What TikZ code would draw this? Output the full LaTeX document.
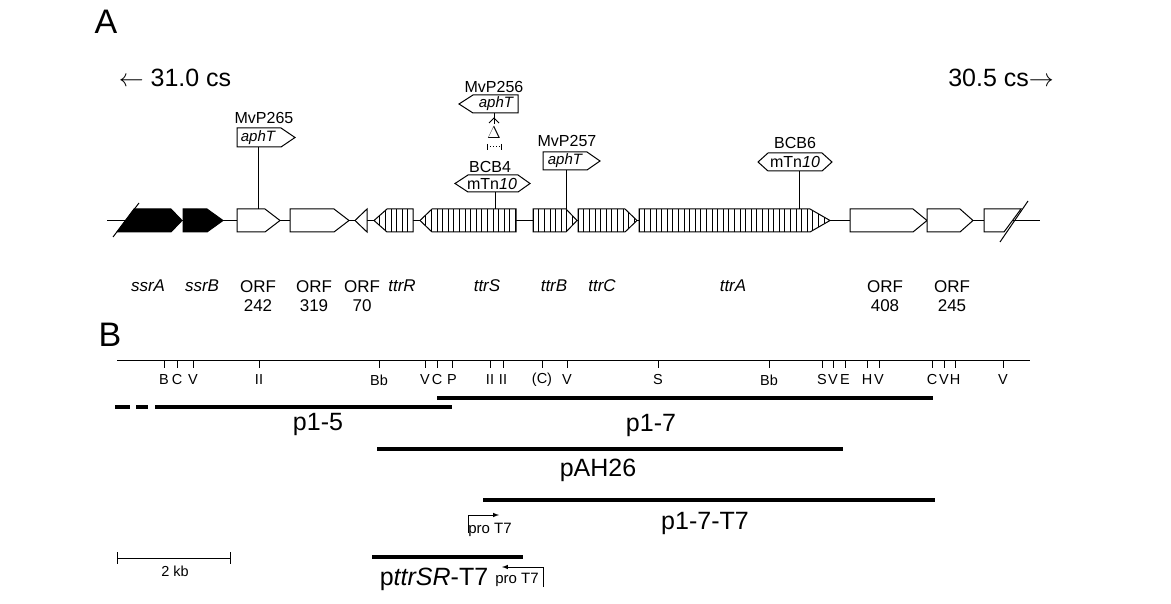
\documentclass[tikz,border=0pt]{standalone}
\usepackage{fontspec}
\setmainfont{Liberation Sans}
\begin{document}
\begin{tikzpicture}[x=1pt,y=-1pt,line width=1pt,
 gene/.style={draw,fill=white},
 black gene/.style={draw,fill=black},
 hatch/.style={draw,fill=white,path picture={\foreach \i in {0,5.6,...,400}{\draw[line width=0.6pt] ([xshift=\i pt]path picture bounding box.south west) -- ([xshift=\i pt]path picture bounding box.north west);}}},
 lab/.style={font=\fontsize{17}{19}\selectfont,align=center,inner sep=0pt},
 ins/.style={font=\fontsize{16}{18}\selectfont,inner sep=0pt},
 glab/.style={font=\itshape\fontsize{17}{19}\selectfont,inner sep=0pt},
 small/.style={font=\fontsize{15}{17}\selectfont,inner sep=0pt},
 site/.style={font=\fontsize{14.5}{16}\selectfont,inner sep=0pt},
 big/.style={font=\fontsize{25}{27}\selectfont,inner sep=0pt},
 bar/.style={line width=4.5pt}]
\useasboundingbox (0,0) rectangle (1171,604);
\node[font=\fontsize{34}{36}\selectfont,inner sep=0pt] (A) at (106,22) {A};
\node[font=\fontsize{25}{27}\selectfont,inner sep=0pt] (l31) at (175,78) {$\leftarrow$ 31.0 cs};
\node[font=\fontsize{25}{27}\selectfont,inner sep=0pt] (l30) at (1001,78) {30.5 cs$\rightarrow$};
\coordinate (m0) at (107,220.5); \coordinate (m1) at (1040,220.5);
\draw (m0) -- (m1);
% genes
\draw[black gene] (117,232)--(134,209)--(171,209)--(182,220.5)--(171,232)--cycle;
\draw (113,237)--(139,203);
\draw[black gene] (183,209)--(207,209)--(223,220.5)--(207,232)--(183,232)--cycle;
\draw[gene] (237,209)--(265,209)--(280,220.5)--(265,232)--(237,232)--cycle;
\draw[gene] (290,209)--(334,209)--(349,220.5)--(334,232)--(290,232)--cycle;
\draw[gene] (355,220.5)--(367,209)--(367,232)--cycle;
\draw[hatch] (374,220.5)--(387,209)--(413,209)--(413,232)--(387,232)--cycle;
\draw[hatch] (420,220.5)--(432,209)--(516,209)--(516,232)--(432,232)--cycle;
\draw[hatch] (533,209)--(566,209)--(577,220.5)--(566,232)--(533,232)--cycle;
\draw[hatch] (578,209)--(625,209)--(637,220.5)--(625,232)--(578,232)--cycle;
\draw[hatch] (639,209)--(810,209)--(830,220.5)--(810,232)--(639,232)--cycle;
\draw[gene] (850,209)--(913,209)--(927,220.5)--(913,232)--(850,232)--cycle;
\draw[gene] (927,209)--(960,209)--(973,220.5)--(960,232)--(927,232)--cycle;
\draw[gene] (984,209)--(1021,209)--(1004,232)--(984,232)--cycle;
\draw (1000,242)--(1028,201);
% insertions
\node[ins] (t265) at (264,118) {MvP265};
\draw[gene] (237,128)--(281,128)--(295,137.5)--(281,147)--(237,147)--cycle;
\node[ins,font=\itshape\fontsize{15}{17}\selectfont] (a265) at (258,137.5) {aphT};
\draw (258,147) -- (258,209);
\node[ins] (t256) at (494,87) {MvP256};
\draw[gene] (459,104)--(473,95)--(518,95)--(518,113)--(473,113)--cycle;
\node[ins,font=\itshape\fontsize{15}{17}\selectfont] (a256) at (496,104) {aphT};
\draw (489,123)--(494,118)--(499,123); \draw (494,113)--(494,124);
\node[ins] (d256) at (494,133) {$\Delta$};
\draw[dotted] (487,147)--(501,147); \draw (487,144)--(487,150); \draw (501,144)--(501,150);
\node[ins] (tb4) at (490,167) {BCB4};
\draw[gene] (455,183.5)--(468,175)--(518,175)--(530,183.5)--(518,192)--(468,192)--cycle;
\node[ins] (mb4) at (492,183.5) {mTn\textit{10}};
\draw (495,192)--(495,209);
\node[ins] (t257) at (567,141) {MvP257};
\draw[gene] (543,152)--(587,152)--(600,161)--(587,170)--(543,170)--cycle;
\node[ins,font=\itshape\fontsize{15}{17}\selectfont] (a257) at (565,161) {aphT};
\draw (566,170)--(566,209);
\node[ins] (tb6) at (795,143) {BCB6};
\draw[gene] (758,162)--(768,153)--(822,153)--(832,162)--(822,171)--(768,171)--cycle;
\node[ins] (mb6) at (795,162) {mTn\textit{10}};
\draw (799,171)--(799,209);
% gene labels
\node[glab] at (148,286) {ssrA};
\node[glab] at (202,286) {ssrB};
\node[lab] at (258,296.5) {ORF\\242};
\node[lab] at (314,296.5) {ORF\\319};
\node[lab] at (362,296.5) {ORF\\70};
\node[glab] at (402,286) {ttrR};
\node[glab] at (487,286) {ttrS};
\node[glab] at (554,286) {ttrB};
\node[glab] at (602,286) {ttrC};
\node[glab] at (733,286) {ttrA};
\node[lab] at (885,296.5) {ORF\\408};
\node[lab] at (952,296.5) {ORF\\245};
% B
\node[font=\fontsize{34}{36}\selectfont,inner sep=0pt] (B) at (110,335) {B};
\coordinate (r0) at (117,360); \coordinate (r1) at (1030,360);
\draw (r0)--(r1);
\foreach \x/\t in {164/B,177/C,193/V,259/II,379/Bb,425/V,437/C,452/P,490/II,503/II,567/V,658/S,769/Bb,822/S,833/V,845/E,867/H,879/V,932/C,944/V,955/H,1003/V}{
 \draw (\x,360)--(\x,368); \node[site] at (\x,380) {\t};}
\draw (542,360)--(542,368); \node[site] at (542,380) {(C)};
% bars
\draw[bar] (115,407)--(130,407); \draw[bar] (136,407)--(148,407);
\draw[bar] (155,407)--(452,407);
\node[big] at (318,424) {p1-5};
\draw[bar] (437,398)--(933,398);
\node[big] at (651,425) {p1-7};
\draw[bar] (377,449)--(843,449);
\node[big] at (598,470) {pAH26};
\draw[bar] (483,500)--(935,500);
\node[big] at (705,523) {p1-7-T7};
\draw[-latex] (468,533)--(468,515)--(499,515);
\node[small] at (490,530) {pro T7};
\draw[bar] (372,557)--(523,557);
\node[big] at (434,579) {p\textit{ttrSR}-T7};
\draw[-latex] (543,587)--(543,567)--(502,567);
\node[small] at (517,580) {pro T7};
\draw (117,558)--(230,558); \draw (117,552)--(117,564); \draw (230,552)--(230,564);
\node[site] at (175,571) {2 kb};
\end{tikzpicture}
\end{document}
